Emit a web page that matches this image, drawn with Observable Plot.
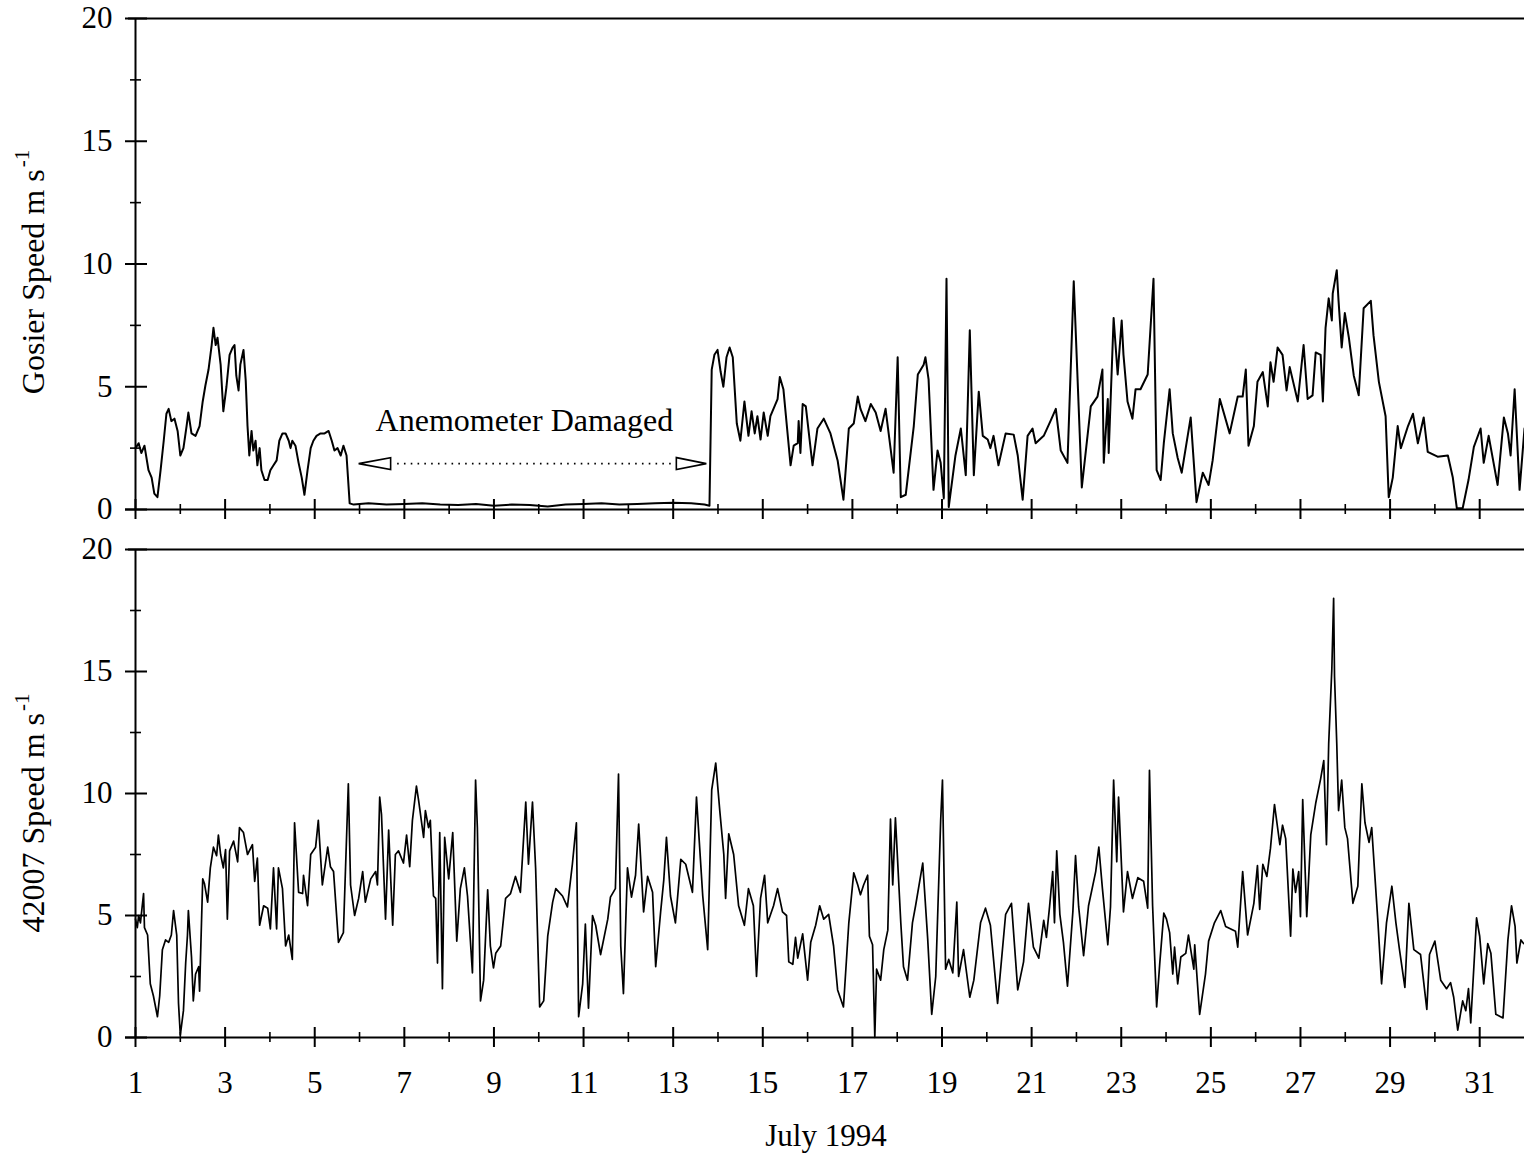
<!DOCTYPE html>
<html>
<head>
<meta charset="utf-8">
<script src="https://cdn.jsdelivr.net/npm/d3@7"></script>
<script src="https://cdn.jsdelivr.net/npm/@observablehq/plot@0.6"></script>
<style>
  html, body { margin: 0; padding: 0; background: #fff; color: #000; }
  #chart { width: 1524px; height: 1158px; display: flex; flex-direction: column; }
  #chart svg { display: block; overflow: visible; }
</style>
</head>
<body>
<div id="chart"></div>
<script>
// ---- Data: July 1994 day-of-month (decimal) and wind speed (m/s) ----
const gosierDay = [
  1.00,1.07,1.13,1.20,1.29,1.36,1.42,1.49,1.56,1.63,
  1.69,1.74,1.80,1.87,1.94,2.00,2.07,2.14,2.18,2.25,
  2.34,2.43,2.50,2.56,2.63,2.70,2.74,2.79,2.83,2.90,
  2.96,3.03,3.10,3.17,3.21,3.25,3.30,3.34,3.41,3.46,
  3.50,3.54,3.59,3.63,3.68,3.72,3.77,3.81,3.88,3.95,
  4.01,4.08,4.15,4.21,4.28,4.35,4.42,4.46,4.50,4.57,
  4.64,4.71,4.77,4.84,4.91,4.97,5.04,5.13,5.22,5.31,
  5.38,5.44,5.51,5.58,5.64,5.71,5.78,5.87,6.2,6.6,
  7.0,7.4,7.8,8.2,8.6,9.0,9.4,9.8,10.2,10.6,
  11.0,11.4,11.8,12.2,12.6,13.0,13.4,13.7,13.81,13.86,
  13.92,13.99,14.06,14.12,14.19,14.26,14.33,14.42,14.50,14.59,
  14.68,14.75,14.82,14.88,14.95,15.02,15.11,15.17,15.33,15.38,
  15.46,15.62,15.69,15.78,15.80,15.84,15.89,15.96,16.11,16.22,
  16.36,16.51,16.67,16.80,16.92,17.03,17.12,17.18,17.29,17.41,
  17.52,17.63,17.74,17.92,18.01,18.08,18.19,18.37,18.46,18.59,
  18.63,18.70,18.81,18.90,18.97,19.04,19.10,19.15,19.30,19.42,
  19.53,19.62,19.71,19.82,19.91,20.02,20.08,20.15,20.26,20.42,
  20.60,20.69,20.80,20.91,21.02,21.09,21.27,21.42,21.54,21.65,
  21.80,21.94,22.12,22.32,22.47,22.58,22.61,22.70,22.72,22.83,
  22.92,23.01,23.05,23.14,23.25,23.32,23.43,23.59,23.72,23.79,
  23.88,23.95,24.08,24.15,24.26,24.35,24.55,24.68,24.82,24.95,
  25.04,25.20,25.42,25.60,25.71,25.78,25.84,25.96,26.04,26.16,
  26.27,26.33,26.40,26.49,26.60,26.69,26.76,26.94,27.07,27.16,
  27.27,27.34,27.45,27.50,27.56,27.63,27.70,27.72,27.81,27.85,
  27.92,27.99,28.08,28.19,28.30,28.41,28.57,28.63,28.75,28.90,
  28.97,29.06,29.17,29.24,29.40,29.51,29.62,29.75,29.84,30.06,
  30.29,30.40,30.49,30.62,30.75,30.87,31.02,31.09,31.20,31.40,
  31.54,31.63,31.69,31.78,31.89,32.00
];
const gosierSpeed = [
  2.5,2.7,2.3,2.6,1.6,1.3,0.65,0.5,1.6,2.8,
  3.9,4.1,3.6,3.7,3.2,2.2,2.5,3.4,3.95,3.1,
  3.0,3.4,4.4,5.05,5.7,6.7,7.4,6.7,7.0,5.9,
  4.0,5.0,6.3,6.6,6.7,5.45,4.85,5.9,6.5,5.25,
  3.4,2.2,3.2,2.4,2.8,1.8,2.5,1.6,1.2,1.2,
  1.6,1.8,2.0,2.8,3.1,3.1,2.8,2.5,2.8,2.6,
  1.9,1.3,0.6,1.6,2.5,2.8,3.0,3.1,3.1,3.2,
  2.8,2.4,2.5,2.2,2.6,2.2,0.25,0.2,0.25,0.2,
  0.22,0.25,0.2,0.18,0.22,0.15,0.2,0.18,0.12,0.2,
  0.22,0.25,0.2,0.22,0.25,0.28,0.25,0.2,0.15,5.7,
  6.3,6.5,5.6,5.0,6.2,6.6,6.2,3.5,2.8,4.4,
  3.0,4.0,3.1,3.8,2.85,3.95,3.0,3.8,4.5,5.4,
  4.9,1.8,2.6,2.7,3.6,2.3,4.3,4.2,1.8,3.3,
  3.7,3.1,2.0,0.4,3.3,3.5,4.6,4.1,3.6,4.3,
  3.95,3.2,4.1,1.5,6.2,0.5,0.6,3.4,5.5,5.9,
  6.2,5.3,0.8,2.4,1.9,0.45,9.4,0.1,2.2,3.3,
  1.4,7.3,1.4,4.8,3.0,2.85,2.5,3.0,1.8,3.1,
  3.05,2.2,0.4,3.0,3.3,2.7,3.0,3.6,4.1,2.4,
  1.9,9.3,0.9,4.2,4.6,5.7,1.9,4.5,2.3,7.8,
  5.5,7.7,6.3,4.4,3.7,4.9,4.9,5.5,9.4,1.6,
  1.2,2.7,4.9,3.1,2.1,1.5,3.75,0.3,1.5,1.0,
  2.0,4.5,3.1,4.6,4.6,5.7,2.6,3.4,5.2,5.6,
  4.2,6.0,5.2,6.6,6.3,4.85,5.8,4.4,6.7,4.5,
  4.65,6.4,6.3,4.4,7.4,8.6,7.7,8.8,9.75,8.5,
  6.6,8.0,7.0,5.45,4.65,8.2,8.5,7.1,5.2,3.8,
  0.5,1.3,3.4,2.5,3.4,3.9,2.7,3.75,2.35,2.15,
  2.2,1.3,0.05,0.05,1.2,2.55,3.3,1.9,3.0,1.0,
  3.75,3.1,2.2,4.9,0.8,3.3
];
const buoyDay = [
  1.00,1.04,1.07,1.11,1.18,1.20,1.27,1.33,1.40,1.49,
  1.54,1.60,1.67,1.74,1.80,1.85,1.92,1.96,2.00,2.07,
  2.12,2.16,2.18,2.25,2.29,2.34,2.41,2.43,2.50,2.54,
  2.61,2.67,2.74,2.81,2.85,2.90,2.96,3.01,3.05,3.10,
  3.19,3.28,3.32,3.41,3.50,3.61,3.66,3.72,3.77,3.86,
  3.95,4.01,4.08,4.15,4.19,4.28,4.35,4.42,4.50,4.55,
  4.64,4.73,4.75,4.84,4.91,5.02,5.08,5.17,5.29,5.35,
  5.42,5.53,5.64,5.75,5.80,5.89,5.98,6.07,6.13,6.25,
  6.36,6.40,6.45,6.49,6.58,6.65,6.74,6.80,6.87,6.98,
  7.05,7.12,7.18,7.27,7.32,7.43,7.47,7.54,7.58,7.65,
  7.70,7.74,7.79,7.85,7.90,7.99,8.08,8.17,8.25,8.34,
  8.41,8.52,8.59,8.63,8.70,8.77,8.86,8.92,8.99,9.04,
  9.15,9.26,9.37,9.48,9.59,9.71,9.77,9.86,9.93,10.02,
  10.11,10.20,10.31,10.38,10.53,10.64,10.75,10.84,10.89,10.98,
  11.04,11.11,11.20,11.27,11.38,11.54,11.60,11.71,11.78,11.83,
  11.89,11.98,12.07,12.16,12.23,12.34,12.43,12.54,12.61,12.72,
  12.79,12.85,12.94,13.05,13.17,13.28,13.43,13.52,13.66,13.77,
  13.86,13.95,14.04,14.13,14.17,14.24,14.35,14.46,14.59,14.68,
  14.79,14.86,14.95,15.04,15.11,15.24,15.33,15.44,15.53,15.58,
  15.67,15.73,15.78,15.89,16.00,16.07,16.18,16.27,16.36,16.47,
  16.58,16.67,16.80,16.92,17.03,17.12,17.18,17.25,17.34,17.38,
  17.45,17.50,17.54,17.63,17.70,17.79,17.85,17.90,17.96,18.08,
  18.14,18.23,18.34,18.41,18.57,18.68,18.77,18.86,18.97,19.01,
  19.08,19.15,19.24,19.33,19.37,19.48,19.62,19.71,19.86,19.97,
  20.08,20.24,20.42,20.55,20.69,20.82,20.93,21.04,21.16,21.27,
  21.33,21.40,21.47,21.51,21.56,21.63,21.71,21.80,21.92,21.98,
  22.05,22.16,22.27,22.43,22.50,22.58,22.70,22.76,22.83,22.90,
  22.94,23.05,23.14,23.25,23.37,23.50,23.59,23.63,23.70,23.79,
  23.86,23.95,24.01,24.08,24.15,24.19,24.26,24.33,24.44,24.50,
  24.62,24.64,24.75,24.88,24.95,25.08,25.22,25.33,25.55,25.60,
  25.71,25.82,25.96,26.04,26.09,26.16,26.25,26.33,26.42,26.54,
  26.60,26.67,26.78,26.83,26.89,26.96,27.00,27.05,27.14,27.23,
  27.34,27.45,27.52,27.58,27.63,27.70,27.74,27.76,27.81,27.85,
  27.92,27.99,28.05,28.17,28.28,28.37,28.44,28.53,28.59,28.73,
  28.81,28.92,29.04,29.13,29.21,29.33,29.42,29.53,29.68,29.82,
  29.88,30.00,30.13,30.26,30.35,30.42,30.51,30.62,30.69,30.75,
  30.80,30.87,30.93,31.00,31.09,31.18,31.25,31.36,31.52,31.63,
  31.71,31.79,31.83,31.92,31.98
];
const buoySpeed = [
  4.85,4.5,5.0,4.7,5.9,4.5,4.2,2.2,1.7,0.85,
  1.7,3.6,4.0,3.9,4.2,5.2,4.2,1.4,0.1,1.1,
  3.05,4.2,5.2,3.3,1.5,2.6,2.9,1.9,6.5,6.3,
  5.55,6.95,7.8,7.45,8.3,7.5,6.95,7.7,4.85,7.65,
  8.05,7.2,8.6,8.4,7.5,7.9,6.4,7.35,4.6,5.4,
  5.3,4.45,6.95,4.45,6.95,6.1,3.75,4.2,3.2,8.8,
  5.95,5.9,6.65,5.4,7.5,7.8,8.9,6.25,7.8,7.0,
  6.8,3.9,4.3,10.4,6.25,5.0,5.7,6.8,5.55,6.5,
  6.8,6.25,9.85,9.15,4.85,8.5,4.6,7.5,7.65,7.15,
  8.3,7.0,8.9,10.3,9.7,8.2,9.3,8.6,8.9,5.8,
  5.7,3.05,8.4,2.0,8.2,6.5,8.4,3.95,6.1,6.95,
  5.8,2.65,10.55,8.6,1.5,2.35,6.05,3.75,2.85,3.45,
  3.75,5.7,5.9,6.6,5.95,9.65,7.1,9.65,6.95,1.25,
  1.5,4.15,5.55,6.1,5.8,5.35,7.1,8.8,0.85,2.2,
  4.65,1.2,5.0,4.6,3.4,4.85,5.75,6.1,10.8,3.75,
  1.8,6.95,5.75,6.65,8.75,5.15,6.6,5.95,2.9,5.15,
  6.45,8.2,5.8,4.7,7.3,7.1,5.95,9.85,5.8,3.6,
  10.15,11.25,9.3,7.5,5.7,8.35,7.5,5.4,4.6,6.1,
  5.4,2.5,5.7,6.65,4.7,5.4,6.1,5.15,5.0,3.1,
  3.0,4.1,3.25,4.25,2.35,3.9,4.6,5.4,4.85,5.05,
  3.75,1.95,1.25,4.7,6.75,6.25,5.85,6.25,6.65,4.15,
  3.8,0.0,2.8,2.35,3.6,4.4,8.95,6.25,9.0,4.7,
  2.9,2.35,4.7,5.4,7.15,4.05,0.95,2.5,8.9,10.55,
  2.8,3.2,2.65,5.55,2.5,3.6,1.65,2.35,4.7,5.3,
  4.6,1.4,5.05,5.5,1.95,3.1,5.5,3.7,3.25,4.8,
  4.1,5.35,6.8,4.7,7.65,5.05,3.9,2.1,5.15,7.45,
  5.35,3.35,5.4,6.8,7.8,6.1,3.8,5.35,10.55,7.2,
  9.85,5.15,6.8,5.7,6.55,6.4,5.3,10.95,5.4,1.25,
  3.05,5.1,4.85,4.3,2.6,3.7,2.2,3.3,3.45,4.2,
  2.8,3.8,0.95,2.6,3.95,4.7,5.2,4.55,4.35,3.7,
  6.8,4.2,5.5,7.05,5.25,7.1,6.6,7.75,9.55,7.9,
  8.7,8.15,4.15,6.9,5.95,6.8,4.95,9.75,4.95,8.3,
  9.6,10.6,11.35,7.9,12.05,15.1,18.0,14.8,12.05,9.3,
  10.55,8.6,8.15,5.5,6.2,10.4,8.8,8.0,8.6,4.7,
  2.2,4.7,6.2,4.7,3.6,2.05,5.5,3.6,3.4,1.15,
  3.4,3.95,2.35,2.0,2.25,1.65,0.3,1.5,1.1,2.0,
  0.6,2.9,4.9,4.15,2.2,3.85,3.45,0.95,0.8,4.0,
  5.4,4.55,3.05,4.0,3.85
];

// ---- Axis ticks and labels ----
const yMajor = [0, 5, 10, 15, 20];
const yMinor = [2.5, 7.5, 12.5, 17.5];
const xMajor = [1, 3, 5, 7, 9, 11, 13, 15, 17, 19, 21, 23, 25, 27, 29, 31];
const xMinor = [2, 4, 6, 8, 10, 12, 14, 16, 18, 20, 22, 24, 26, 28, 30];
const xDomain = [1, 32];
const yDomain = [0, 20];
const xTitle = "July 1994";
const topYTitle = "Gosier Speed m s";
const bottomYTitle = "42007 Speed m s";
const unitSup = "-1";

// ---- Annotation: damaged anemometer period ----
const annotationText = "Anemometer Damaged";
const annotationDay = 9.68;
const annotationSpeed = 3.63;
const damagedStart = 5.98;
const damagedEnd = 13.74;
const arrowSpeed = 1.87;

const FONT = '"Liberation Serif", "Times New Roman", Times, serif';

const gosier = gosierDay.map((day, i) => ({day, speed: gosierSpeed[i]}));
const buoy = buoyDay.map((day, i) => ({day, speed: buoySpeed[i]}));

const leftHead = { draw(ctx) { ctx.moveTo(0, 0); ctx.lineTo(32, -6); ctx.lineTo(32, 6); ctx.closePath(); } };
const rightHead = { draw(ctx) { ctx.moveTo(0, 0); ctx.lineTo(-30, -6); ctx.lineTo(-30, 6); ctx.closePath(); } };

function frameMarks() {
  return [
    Plot.ruleY([yDomain[1]], {x1: xDomain[0], x2: xDomain[1], insetLeft: -7, stroke: "#000", strokeWidth: 2}),
    Plot.ruleY([yDomain[0]], {x1: xDomain[0], x2: xDomain[1], insetLeft: -10, stroke: "#000", strokeWidth: 2}),
    Plot.ruleX([xDomain[0]], {y1: yDomain[0], y2: yDomain[1], stroke: "#000", strokeWidth: 2}),
    Plot.ruleY(yMajor, {x1: xDomain[0], x2: xDomain[0], insetLeft: -10, insetRight: -12, stroke: "#000", strokeWidth: 2}),
    Plot.ruleY(yMinor, {x1: xDomain[0], x2: xDomain[0], insetLeft: -5, insetRight: -6, stroke: "#000", strokeWidth: 1.6}),
    Plot.ruleX(xMajor, {y1: yDomain[0], y2: yDomain[0], insetTop: -10, insetBottom: -10, stroke: "#000", strokeWidth: 2}),
    Plot.ruleX(xMinor, {y1: yDomain[0], y2: yDomain[0], insetTop: -5, insetBottom: -5, stroke: "#000", strokeWidth: 1.6}),
    Plot.axisY({ticks: yMajor, tickSize: 0, tickPadding: 23, label: null, fontSize: 31, tickFormat: d => String(d)})
  ];
}

function addYTitle(svg, cy, main) {
  const t = d3.select(svg).append("text")
    .attr("transform", `translate(44,${cy}) rotate(-90)`)
    .attr("text-anchor", "middle")
    .attr("font-family", FONT)
    .attr("font-size", 32)
    .attr("fill", "#000");
  t.append("tspan").text(main);
  t.append("tspan").attr("font-size", 21).attr("dx", 2).attr("dy", -15).text(unitSup);
}

const common = {
  width: 1524,
  marginLeft: 135,
  marginRight: 0,
  style: {fontFamily: FONT, fontSize: "30px", color: "#000", background: "#fff", overflow: "visible"}
};

const topPlot = Plot.plot({
  ...common,
  height: 529,
  marginTop: 18,
  marginBottom: 20,
  x: {domain: xDomain, axis: null},
  y: {domain: yDomain},
  marks: [
    ...frameMarks(),
    Plot.line(gosier, {x: "day", y: "speed", stroke: "#000", strokeWidth: 2, strokeLinejoin: "round"}),
    Plot.text([annotationText], {x: annotationDay, y: annotationSpeed, text: d => d, fontSize: 32, fill: "#000"}),
    Plot.ruleY([arrowSpeed], {x1: damagedStart, x2: damagedEnd, insetLeft: 39, insetRight: 35, stroke: "#000", strokeWidth: 1.6, strokeDasharray: "1.6 5.2"}),
    Plot.dot([damagedStart], {x: d => d, y: arrowSpeed, symbol: leftHead, fill: "#fff", stroke: "#000", strokeWidth: 1.6}),
    Plot.dot([damagedEnd], {x: d => d, y: arrowSpeed, symbol: rightHead, fill: "#fff", stroke: "#000", strokeWidth: 1.6})
  ]
});

const bottomPlot = Plot.plot({
  ...common,
  height: 629,
  marginTop: 20,
  marginBottom: 121,
  x: {domain: xDomain},
  y: {domain: yDomain},
  marks: [
    ...frameMarks(),
    Plot.axisX({ticks: xMajor, tickSize: 0, tickPadding: 33, label: null, fontSize: 31, tickFormat: d => String(d)}),
    Plot.line(buoy, {x: "day", y: "speed", stroke: "#000", strokeWidth: 1.7, strokeLinejoin: "round"}),
    Plot.text([xTitle], {frameAnchor: "bottom", dx: -4, dy: 108, text: d => d, fontSize: 31, fill: "#000"})
  ]
});

addYTitle(topPlot, 272, topYTitle);
addYTitle(bottomPlot, 284, bottomYTitle);

const chart = document.getElementById("chart");
chart.appendChild(topPlot);
chart.appendChild(bottomPlot);
</script>
</body>
</html>
